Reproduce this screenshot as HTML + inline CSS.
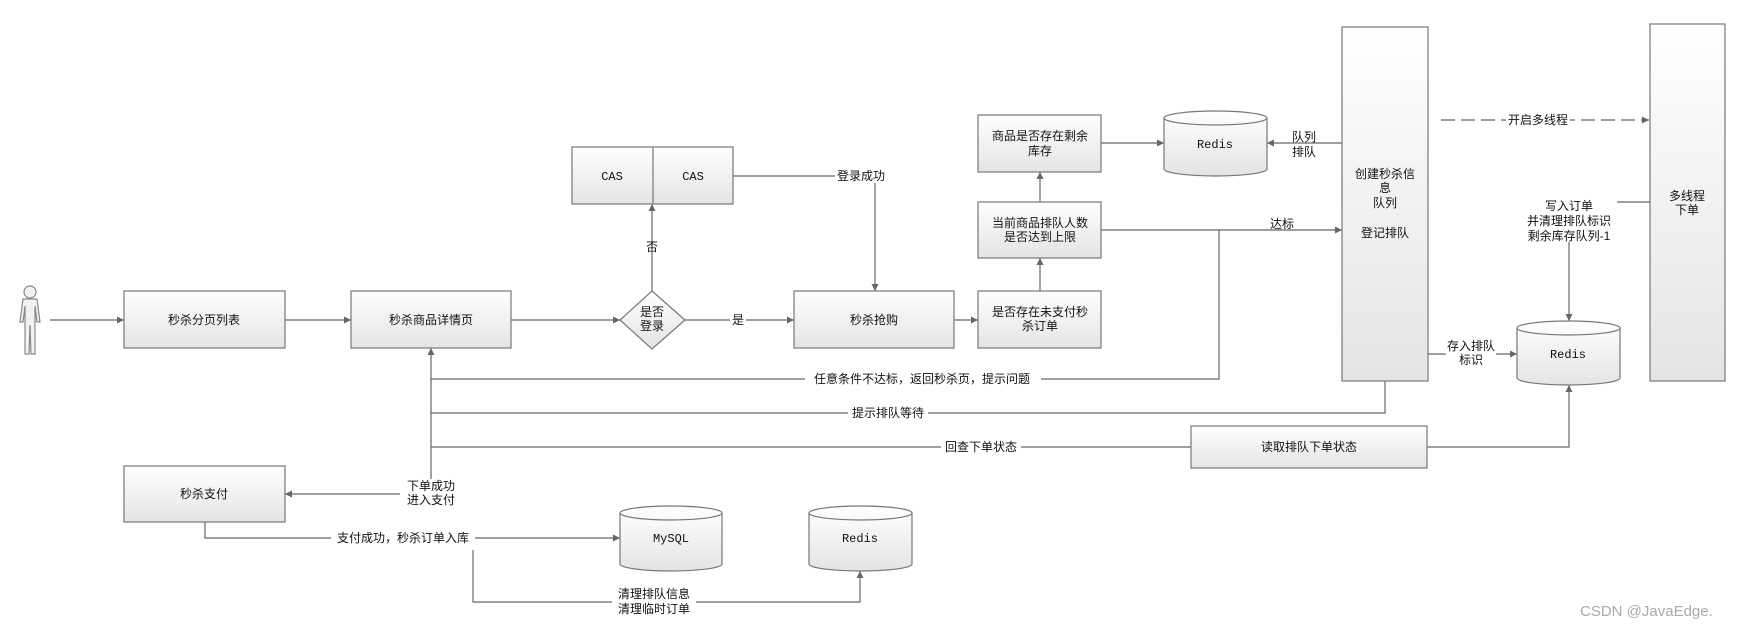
<!DOCTYPE html>
<html><head><meta charset="utf-8"><style>
html,body{margin:0;padding:0;background:#fff;}
svg text{font-family:"Liberation Sans","Noto Sans CJK SC",sans-serif;font-size:12px;fill:#111;}
.m{font-family:"Liberation Mono","Noto Sans CJK SC",monospace;}
</style></head><body>
<svg width="1754" height="630" viewBox="0 0 1754 630" xmlns="http://www.w3.org/2000/svg">
<defs>
<linearGradient id="g" x1="0" y1="0" x2="0" y2="1"><stop offset="0" stop-color="#ffffff"/><stop offset="1" stop-color="#e4e4e4"/></linearGradient>
<marker id="a" markerWidth="8" markerHeight="8" refX="7" refY="4" orient="auto" markerUnits="userSpaceOnUse"><path d="M0,0.5 L7,4 L0,7.5 z" fill="#666"/></marker>
</defs>
<g stroke="#666" stroke-width="1.2" fill="none">
<!-- connectors -->
<line x1="50" y1="320" x2="124" y2="320" marker-end="url(#a)"/>
<line x1="285" y1="320" x2="351" y2="320" marker-end="url(#a)"/>
<line x1="511" y1="320" x2="620" y2="320" marker-end="url(#a)"/>
<line x1="685" y1="320" x2="794" y2="320" marker-end="url(#a)"/>
<line x1="652" y1="291" x2="652" y2="204" marker-end="url(#a)"/>
<polyline points="733,176 875,176 875,291" marker-end="url(#a)"/>
<line x1="954" y1="320" x2="978" y2="320" marker-end="url(#a)"/>
<line x1="1040" y1="291" x2="1040" y2="258" marker-end="url(#a)"/>
<line x1="1040" y1="202" x2="1040" y2="172" marker-end="url(#a)"/>
<line x1="1101" y1="143" x2="1164" y2="143" marker-end="url(#a)"/>
<line x1="1342" y1="143" x2="1267" y2="143" marker-end="url(#a)"/>
<line x1="1101" y1="230" x2="1342" y2="230" marker-end="url(#a)"/>
<polyline points="1219,230 1219,379 431,379"/>
<line x1="431" y1="494" x2="431" y2="348" marker-end="url(#a)"/>
<polyline points="1385,381 1385,413 431,413"/>
<line x1="1191" y1="447" x2="431" y2="447"/>
<polyline points="1427,447 1569,447 1569,385" marker-end="url(#a)"/>
<line x1="431" y1="494" x2="285" y2="494" marker-end="url(#a)"/>
<polyline points="205,522 205,538 620,538" marker-end="url(#a)"/>
<polyline points="473,550 473,602 860,602 860,571" marker-end="url(#a)"/>
<line x1="1428" y1="354" x2="1517" y2="354" marker-end="url(#a)"/>
<polyline points="1650,202 1569,202 1569,321" marker-end="url(#a)"/>
<line x1="1441" y1="120" x2="1649" y2="120" stroke-dasharray="14,6" marker-end="url(#a)"/>
</g>
<!-- boxes -->
<g stroke="#777" stroke-width="1.2" fill="url(#g)">
<rect x="124" y="291" width="161" height="57"/>
<rect x="351" y="291" width="160" height="57"/>
<polygon points="652,291 685,320 652,349 620,320"/>
<rect x="572" y="147" width="161" height="57"/>
<rect x="794" y="291" width="160" height="57"/>
<rect x="978" y="291" width="123" height="57"/>
<rect x="978" y="202" width="123" height="56"/>
<rect x="978" y="115" width="123" height="57"/>
<rect x="1342" y="27" width="86" height="354"/>
<rect x="1650" y="24" width="75" height="357"/>
<rect x="1191" y="426" width="236" height="42"/>
<rect x="124" y="466" width="161" height="56"/>
<path d="M1164,118 A51.5,7 0 0 1 1267,118 L1267,169 A51.5,7 0 0 1 1164,169 Z"/>
<path d="M1517,328 A51.5,7 0 0 1 1620,328 L1620,378 A51.5,7 0 0 1 1517,378 Z"/>
<path d="M620,513 A51,7 0 0 1 722,513 L722,564 A51,7 0 0 1 620,564 Z"/>
<path d="M809,513 A51.5,7 0 0 1 912,513 L912,564 A51.5,7 0 0 1 809,564 Z"/>
</g>
<g stroke="#777" stroke-width="1.2" fill="none">
<line x1="653" y1="147" x2="653" y2="204"/>
<path d="M1164,118 A51.5,7 0 0 0 1267,118"/>
<path d="M1517,328 A51.5,7 0 0 0 1620,328"/>
<path d="M620,513 A51,7 0 0 0 722,513"/>
<path d="M809,513 A51.5,7 0 0 0 912,513"/>
</g>
<!-- person -->
<g stroke="#888" stroke-width="1.2" fill="#f2f2f2">
<circle cx="30" cy="292" r="6"/>
<path d="M23,299 L37,299 L40,322 L37,322 L35,306 L35,354 L31,354 L30,325 L29,354 L25,354 L25,306 L23,322 L20,322 Z"/>
</g>
<!-- labels -->
<g text-anchor="middle">
<text x="204" y="324">秒杀分页列表</text>
<text x="431" y="324">秒杀商品详情页</text>
<text x="652" y="316">是否</text><text x="652" y="330">登录</text>
<text x="612" y="180" class="m">CAS</text><text x="693" y="180" class="m">CAS</text>
<text x="874" y="324">秒杀抢购</text>
<text x="1040" y="316">是否存在未支付秒</text><text x="1040" y="330">杀订单</text>
<text x="1040" y="227">当前商品排队人数</text><text x="1040" y="241">是否达到上限</text>
<text x="1040" y="140">商品是否存在剩余</text><text x="1040" y="155">库存</text>
<text x="1215" y="148" class="m">Redis</text>
<text x="1568" y="358" class="m">Redis</text>
<text x="671" y="542" class="m">MySQL</text>
<text x="860" y="542" class="m">Redis</text>
<text x="1385" y="178">创建秒杀信</text><text x="1385" y="192">息</text><text x="1385" y="207">队列</text><text x="1385" y="237">登记排队</text>
<text x="1687" y="200">多线程</text><text x="1687" y="214">下单</text>
<text x="1309" y="451">读取排队下单状态</text>
<text x="204" y="498">秒杀支付</text>
</g>
<g text-anchor="middle">
<rect x="835" y="169" width="50" height="14" fill="#fff"/><text x="861" y="180">登录成功</text>
<text x="652" y="251" transform="rotate(0)">否</text>
<rect x="730" y="313" width="16" height="14" fill="#fff"/><text x="738" y="324">是</text>
<text x="1304" y="141">队列</text><text x="1304" y="156">排队</text>
<text x="1282" y="228">达标</text>
<rect x="805" y="372" width="236" height="14" fill="#fff"/><text x="922" y="383">任意条件不达标，返回秒杀页，提示问题</text>
<rect x="848" y="406" width="80" height="14" fill="#fff"/><text x="888" y="417">提示排队等待</text>
<rect x="941" y="440" width="80" height="14" fill="#fff"/><text x="981" y="451">回查下单状态</text>
<rect x="400" y="479" width="62" height="28" fill="#fff"/><text x="431" y="490">下单成功</text><text x="431" y="504">进入支付</text>
<rect x="331" y="531" width="144" height="14" fill="#fff"/><text x="403" y="542">支付成功，秒杀订单入库</text>
<rect x="612" y="588" width="84" height="28" fill="#fff"/><text x="654" y="598">清理排队信息</text><text x="654" y="613">清理临时订单</text>
<rect x="1506" y="113" width="64" height="14" fill="#fff"/><text x="1538" y="124">开启多线程</text>
<rect x="1521" y="198" width="96" height="44" fill="#fff"/><text x="1569" y="210">写入订单</text><text x="1569" y="225">并清理排队标识</text><text x="1569" y="240">剩余库存队列-1</text>
<rect x="1446" y="339" width="50" height="28" fill="#fff"/><text x="1471" y="350">存入排队</text><text x="1471" y="364">标识</text>
</g>
<text x="1580" y="616" style="font-size:15px;fill:#aaa;">CSDN @JavaEdge.</text>
</svg>
</body></html>
